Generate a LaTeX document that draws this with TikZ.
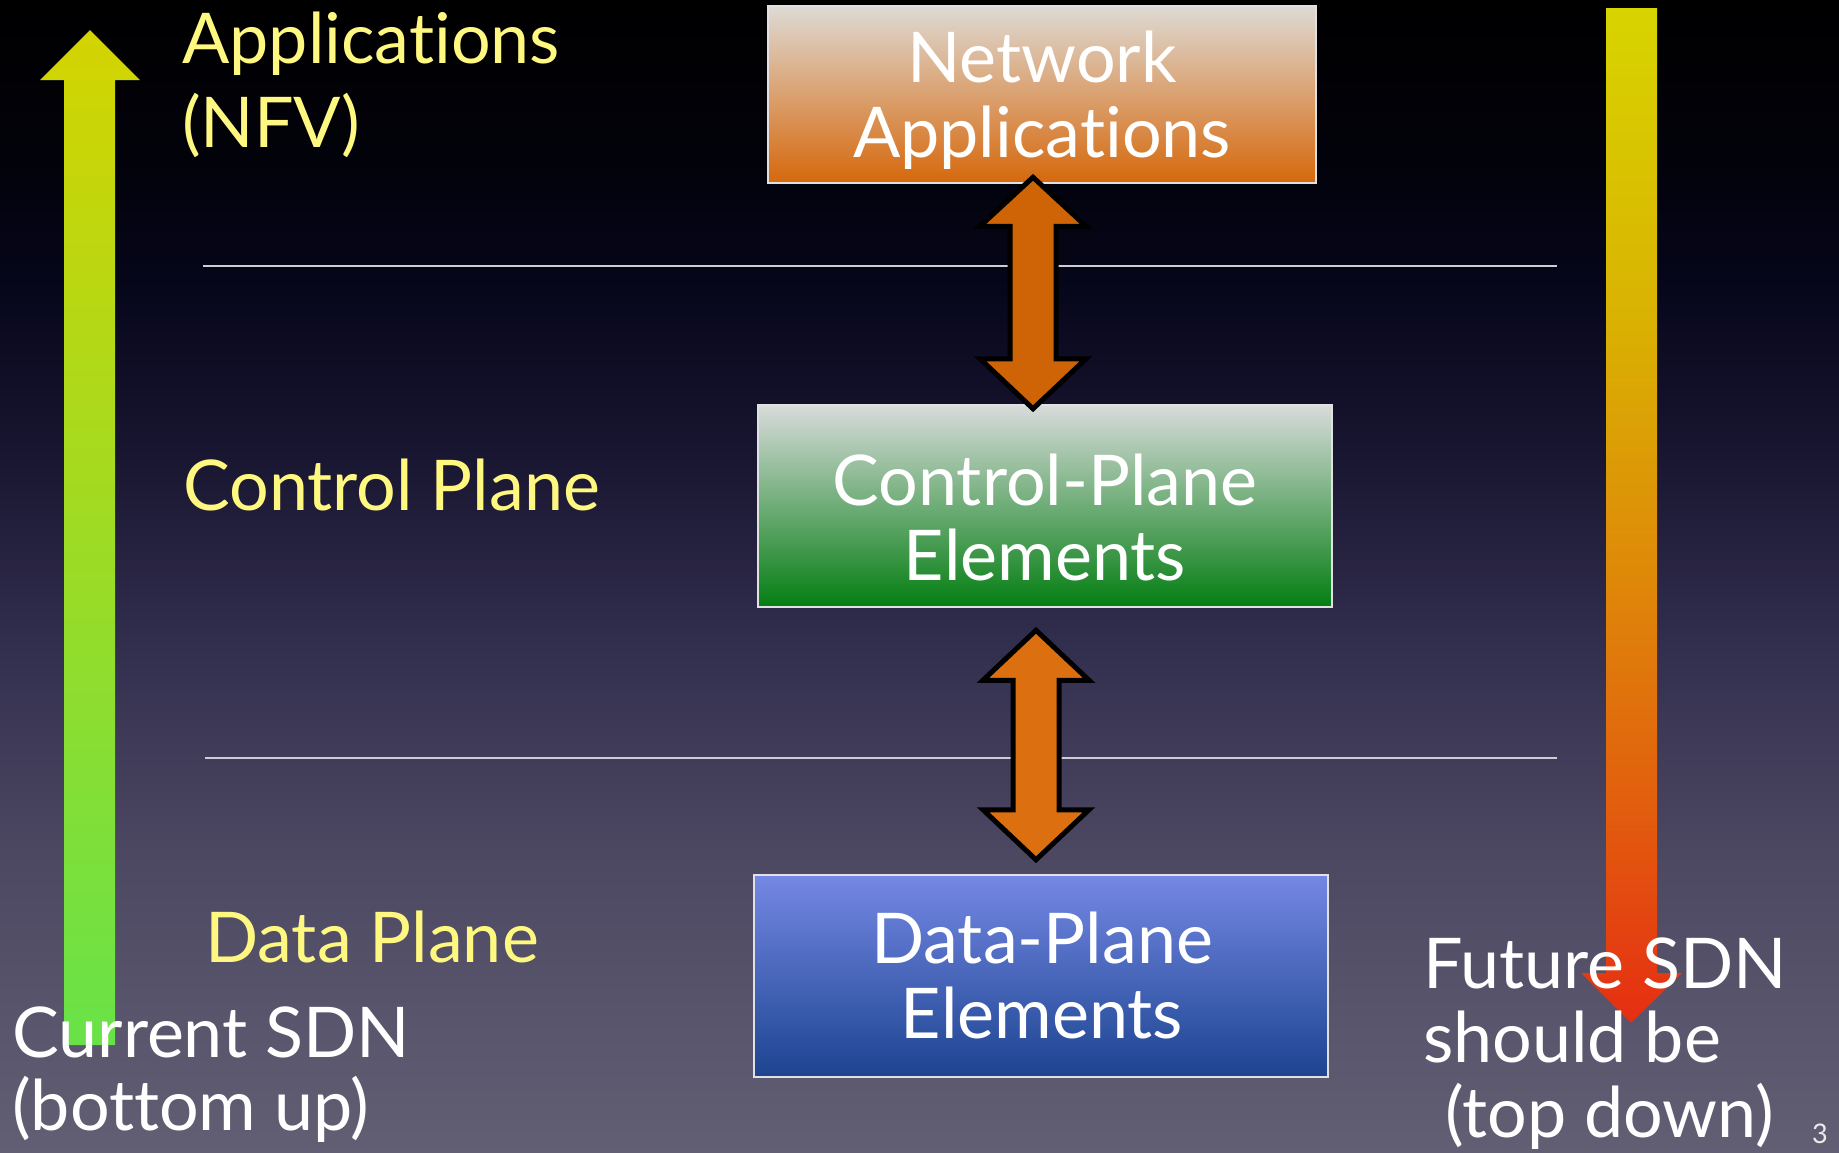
\documentclass[tikz,border=0pt]{standalone}
\usepackage{fontspec}
\setmainfont[Ligatures=NoCommon]{Lato}
\usetikzlibrary{calc}

% palette
\definecolor{labelyellow}{RGB}{255,248,128}
\definecolor{sepgray}{RGB}{205,205,212}
\definecolor{boxedge}{RGB}{225,225,228}
\definecolor{arrowA}{RGB}{206,100,6}
\definecolor{arrowB}{RGB}{220,112,16}
% background stops, bottom to top
\definecolor{bgA}{RGB}{98,95,116}
\definecolor{bgB}{RGB}{76,72,98}
\definecolor{bgC}{RGB}{50,46,78}
\definecolor{bgD}{RGB}{24,21,48}
\definecolor{bgE}{RGB}{6,6,26}
\definecolor{bgF}{RGB}{2,2,10}
\definecolor{bgG}{RGB}{0,0,0}
% top-down arrow stops, bottom to top
\definecolor{fdA}{RGB}{229,46,18}
\definecolor{fdB}{RGB}{226,95,14}
\definecolor{fdC}{RGB}{222,140,8}
\definecolor{fdD}{RGB}{217,180,2}
\definecolor{fdE}{RGB}{216,212,0}

\pgfdeclareverticalshading{slidebg}{100bp}{%
  color(0bp)=(bgA); color(25bp)=(bgA); color(38bp)=(bgB); color(47bp)=(bgC);
  color(55.5bp)=(bgD); color(62.8bp)=(bgE); color(68.5bp)=(bgF);
  color(75bp)=(bgG); color(100bp)=(bgG)}
\pgfdeclareverticalshading{topdown}{100bp}{%
  color(0bp)=(fdA); color(25bp)=(fdA); color(36bp)=(fdB); color(48bp)=(fdC);
  color(60.5bp)=(fdD); color(75bp)=(fdE); color(100bp)=(fdE)}

\begin{document}
\begin{tikzpicture}[x=1pt,y=-1pt,
  lbl/.style={anchor=base west, inner sep=0pt, text=labelyellow,
              font=\fontsize{70}{84}\selectfont},
  wlbl/.style={lbl, text=white},
  boxtext/.style={anchor=base, inner sep=0pt, text=white,
              font=\fontsize{70}{75}\selectfont},
  layerbox/.style={rectangle, draw=boxedge, line width=2.5pt, inner sep=0pt},
  sepline/.style={draw=sepgray, line width=1.6pt},
  dblarrow/.style={draw=black, line width=5pt, line join=miter, miter limit=10}]

\path[use as bounding box] (0,0) rectangle (1839,1152);

% slide background
\shade[shading=slidebg] (0,0) rectangle (1839,1152);

% layer separators
\coordinate (s1a) at (203,266); \coordinate (s1b) at (1557,266);
\coordinate (s2a) at (205,758); \coordinate (s2b) at (1557,758);
\draw[sepline] (s1a) -- (s1b);
\draw[sepline] (s2a) -- (s2b);

% bottom-up arrow
\shade[top color={rgb,255:red,212;green,212;blue,0},
       middle color={rgb,255:red,160;green,219;blue,38},
       bottom color={rgb,255:red,104;green,226;blue,72}]
  (64,1045) -- (64,80) -- (40,80) -- (90,30) -- (140,80) -- (115,80) -- (115,1045) -- cycle;

% top-down arrow
\shade[shading=topdown]
  (1606,8) -- (1657,8) -- (1657,973) -- (1682,973) -- (1631,1023) -- (1581,973) -- (1606,973) -- cycle;

% the three layers
\node[layerbox, minimum width=548pt, minimum height=177pt,
      top color={rgb,255:red,222;green,218;blue,212},
      middle color={rgb,255:red,214;green,160;blue,116},
      bottom color={rgb,255:red,214;green,104;blue,12}] (net) at (1042,94.5) {};
\node[layerbox, minimum width=574pt, minimum height=202pt,
      top color={rgb,255:red,216;green,219;blue,219},
      middle color={rgb,255:red,126;green,176;blue,132},
      bottom color={rgb,255:red,4;green,126;blue,18}] (ctrl) at (1045,506) {};
\node[layerbox, minimum width=574pt, minimum height=202pt,
      top color={rgb,255:red,116;green,136;blue,228},
      middle color={rgb,255:red,82;green,104;blue,196},
      bottom color={rgb,255:red,28;green,68;blue,144}] (data) at (1041,976) {};

% double arrows between layers
\path (net.south) ++(-9,-7) coordinate (a1t);
\path (ctrl.north) ++(-12,5) coordinate (a1b);
\path (ctrl.south) ++(-9,22) coordinate (a2t);
\path (data.north) ++(-5,-14) coordinate (a2b);

\filldraw[dblarrow, fill=arrowA]
  (a1t) -- ($(a1t)+(53,49)$) -- ($(a1t)+(23,49)$) -- ($(a1b)+(23,-50)$)
  -- ($(a1b)+(53,-50)$) -- (a1b) -- ($(a1b)+(-53,-50)$) -- ($(a1b)+(-23,-50)$)
  -- ($(a1t)+(-23,49)$) -- ($(a1t)+(-53,49)$) -- cycle;
\filldraw[dblarrow, fill=arrowB]
  (a2t) -- ($(a2t)+(53,50)$) -- ($(a2t)+(23,50)$) -- ($(a2b)+(23,-50)$)
  -- ($(a2b)+(53,-50)$) -- (a2b) -- ($(a2b)+(-53,-50)$) -- ($(a2b)+(-23,-50)$)
  -- ($(a2t)+(-23,50)$) -- ($(a2t)+(-53,50)$) -- cycle;

% layer captions
\node[boxtext] (net1) at (1042,82) {Network};
\node[boxtext] (net2) at (1042,157) {Applications};
\node[boxtext] (ctrl1) at (1045,505) {Control-Plane};
\node[boxtext] (ctrl2) at (1045,580) {Elements};
\node[boxtext] (data1) at (1042,963) {Data-Plane};
\node[boxtext] (data2) at (1042,1038) {Elements};

% side labels
\node[lbl] (app1) at (182,63) {Applications};
\node[lbl] (app2) at (182,147) {(NFV)};
\node[lbl] (cplane) at (183,510) {Control Plane};
\node[lbl] (dplane) at (205,962) {Data Plane};

\node[wlbl] (cur1) at (12,1057) {Current SDN};
\node[wlbl] (cur2) at (12,1130) {(bottom up)};
\node[wlbl] (fut1) at (1423,988) {Future SDN};
\node[wlbl] (fut2) at (1423,1062) {should be};
\node[wlbl] (fut3) at (1445,1137) {(top down)};

% slide number
\node[anchor=base west, inner sep=0pt, text={rgb,255:red,235;green,235;blue,235},
      font=\fontsize{27}{32}\selectfont] (pageno) at (1812,1143) {3};
\end{tikzpicture}
\end{document}
